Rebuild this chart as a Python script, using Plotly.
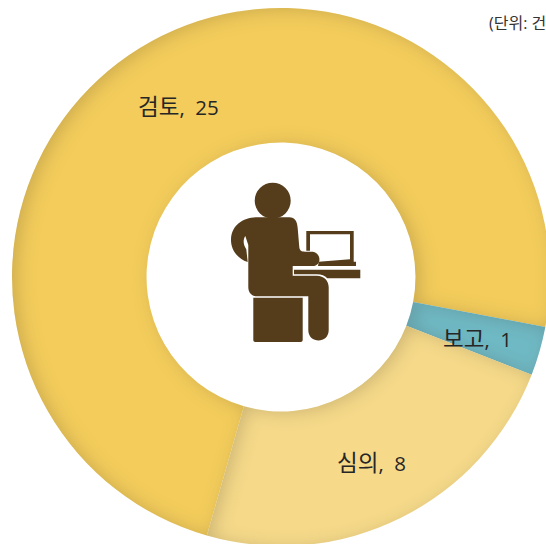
import plotly.graph_objects as go
import re

categories = ["검토", "보고", "심의"]
values = [25, 1, 8]
colors = ["#F3CC5C", "#6FB9C4", "#F6DA8A"]
label_values = ["25", "8", "1"]
label_names = ["검토", "심의", "보고"]
label_px = [(178, 106), (371, 462), (477, 338)]
unit_text = "(단위: 건)"
ICON = "#553D1C"

W, H = 560, 560
def fx(p): return p / W
def fy(p): return 1 - p / H

# icon outlines traced in zoom coordinates (3x, origin 200,160)
def z(x, y): return f"{200 + x / 3:.1f},{160 + y / 3:.1f}"
def pth(cmds):
    out = []
    for c in cmds:
        out.append(c[0] + " ".join(z(*p) for p in c[1:]))
    return " ".join(out) + " Z"

body = pth([("M", (172, 172)), ("L", (268, 172)), ("C", (285, 172), (292, 185), (293, 205)),
            ("L", (298, 262)), ("C", (299, 272), (305, 275), (315, 275)), ("L", (338, 275)),
            ("C", (365, 280), (365, 318), (338, 318)), ("L", (278, 318)), ("L", (278, 347)),
            ("L", (350, 347)), ("C", (372, 347), (386, 362), (386, 382)), ("L", (386, 510)),
            ("C", (386, 552), (325, 552), (325, 510)), ("L", (325, 409)), ("L", (170, 409)),
            ("C", (155, 409), (145, 398), (145, 382)), ("L", (145, 255)), ("L", (136, 228)),
            ("C", (128, 240), (130, 255), (139, 268)), ("L", (143, 306)),
            ("C", (112, 297), (92, 268), (93, 238)), ("C", (95, 195), (130, 172), (172, 172))])
seat = pth([("M", (160, 413)), ("L", (308, 413)), ("L", (308, 540)), ("C", (308, 544), (305, 546), (302, 546)),
            ("L", (166, 546)), ("C", (162, 546), (160, 544), (160, 540))])
desk = pth([("M", (282, 329)), ("L", (481, 329)), ("L", (481, 355)), ("L", (382, 355)),
            ("C", (374, 347), (365, 343), (350, 343)), ("L", (282, 343))])
laptop = pth([("M", (319, 213)), ("L", (461, 213)), ("L", (461, 305)), ("L", (468, 305)), ("L", (468, 318)),
              ("L", (354, 318)), ("L", (356, 305)), ("L", (450, 298)), ("L", (450, 223)), ("L", (330, 223)),
              ("L", (330, 272)), ("L", (319, 272))])

shapes = [dict(type="circle", xref="paper", yref="paper", x0=fx(254.7), x1=fx(290.7),
               y0=fy(218.7), y1=fy(182.7), fillcolor=ICON, line_width=0)]
def to_paper(path):
    return re.sub(r"(-?[\d.]+),(-?[\d.]+)",
                  lambda m: f"{fx(float(m[1])):.5f},{fy(float(m[2])):.5f}", path)
for p in (body, seat, desk, laptop):
    shapes.append(dict(type="path", xref="paper", yref="paper", path=to_paper(p),
                       fillcolor=ICON, line_width=0))

fig = go.Figure(go.Pie(
    labels=categories, values=values, hole=0.5, sort=False, direction="clockwise",
    rotation=196, textinfo="none", showlegend=False,
    marker=dict(colors=colors, line=dict(width=0)),
    domain=dict(x=[fx(12), fx(550)], y=[fy(546), fy(8)]),
))

FONT = "Open Sans, Noto Sans CJK KR"
annotations = [dict(text=f'<span style="font-size:22.5px">{n}</span>,\u00a0\u00a0{v}',
                    x=fx(p[0]), y=fy(p[1]), xref="paper", yref="paper", showarrow=False,
                    xanchor="center", yanchor="middle",
                    font=dict(family=FONT, size=20.5, color="#262626"))
               for n, v, p in zip(label_names, label_values, label_px)]
annotations.append(dict(text=unit_text, x=fx(487), y=fy(23), xref="paper", yref="paper", showarrow=False,
                        xanchor="left", yanchor="middle",
                        font=dict(family=FONT, size=16, color="#333333")))

fig.update_layout(width=W, height=H, autosize=False, margin=dict(l=0, r=0, t=0, b=0),
                  paper_bgcolor="white", plot_bgcolor="white", shapes=shapes, annotations=annotations)

post = """
document.documentElement.style.overflow='hidden';
document.body.style.margin='0';document.body.style.overflow='hidden';
var ns='http://www.w3.org/2000/svg';
var svg=document.querySelector('.main-svg');
var d=document.createElementNS(ns,'defs');
d.innerHTML='<filter id="innerS" x="-10%" y="-10%" width="120%" height="120%">'+
 '<feComponentTransfer in="SourceAlpha" result="inv"><feFuncA type="table" tableValues="1 0"/></feComponentTransfer>'+
 '<feOffset in="inv" dx="5" dy="2"/><feGaussianBlur stdDeviation="9" result="b"/>'+
 '<feFlood flood-color="#4a4030" flood-opacity="0.36"/><feComposite in2="b" operator="in"/>'+
 '<feComposite in2="SourceAlpha" operator="in" result="s"/>'+
 '<feMerge><feMergeNode in="SourceGraphic"/><feMergeNode in="s"/></feMerge></filter>';
svg.insertBefore(d,svg.firstChild);
document.querySelectorAll('.slice path.surface').forEach(function(p){p.setAttribute('filter','url(#innerS)');});
"""
fig.write_html("out.html", post_script=post, config={"displayModeBar": False})
